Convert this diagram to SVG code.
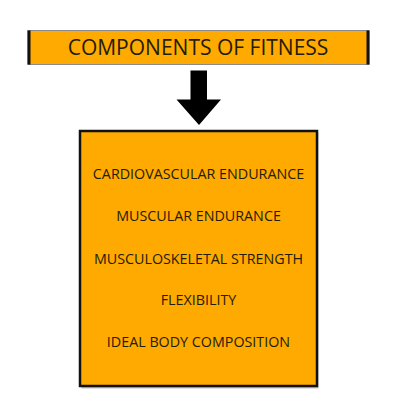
<svg xmlns="http://www.w3.org/2000/svg" width="400" height="416" viewBox="0 0 400 416">
<style>
.box{fill:#FFAA00}
.t{font-family:"Open Sans","Liberation Sans",sans-serif;fill:#241c05;text-anchor:middle}
.title{font-size:21px}
.item{font-size:14.3px}
</style>
<rect width="400" height="416" fill="#ffffff"/>
<g id="title-node">
<rect class="box" x="28" y="30.5" width="341" height="34" stroke="#8a8a8a" stroke-width="1"/>
<rect x="27.5" y="30.5" width="3" height="34" fill="#111"/>
<rect x="366.5" y="30.5" width="3" height="34" fill="#111"/>
<text class="t title" x="198" y="54.5">COMPONENTS OF FITNESS</text>
</g>
<g id="connectors">
<polygon points="190.5,70.5 207,70.5 207,99.5 221,99.5 199,125 176.5,99.5 190.5,99.5" fill="#000"/>
</g>
<g id="list-node">
<rect x="81.5" y="132.5" width="237" height="256" fill="#555" opacity="0.35"/>
<rect class="box" x="80" y="131" width="237" height="255" stroke="#111" stroke-width="2.5"/>
<text class="t item" x="198.5" y="178.5">CARDIOVASCULAR ENDURANCE</text>
<text class="t item" x="198.5" y="221">MUSCULAR ENDURANCE</text>
<text class="t item" x="198.5" y="263.5">MUSCULOSKELETAL STRENGTH</text>
<text class="t item" x="198.5" y="305">FLEXIBILITY</text>
<text class="t item" x="198.5" y="346.5">IDEAL BODY COMPOSITION</text>
</g>
</svg>
